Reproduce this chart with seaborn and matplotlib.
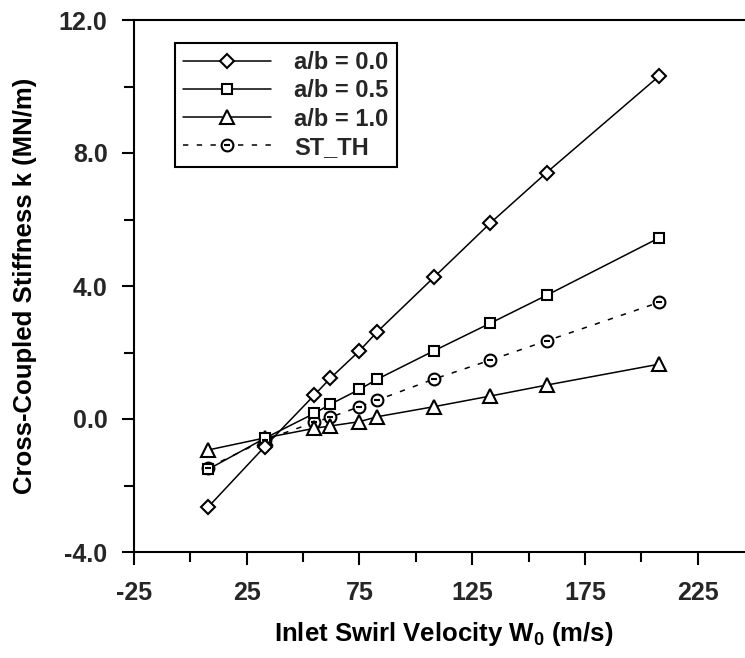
import matplotlib
matplotlib.use('Agg')
import matplotlib.pyplot as plt
import seaborn as sns
from matplotlib.lines import Line2D
from matplotlib.legend_handler import HandlerTuple
from matplotlib.ticker import FixedLocator, FormatStrFormatter

# ---- data ----
inlet_swirl = [8, 33, 55, 62, 75, 83, 108, 133, 158, 208]
k_ab_00 = [-2.64, -0.83, 0.72, 1.22, 2.05, 2.63, 4.26, 5.89, 7.41, 10.32]
k_ab_05 = [-1.51, -0.58, 0.17, 0.44, 0.89, 1.20, 2.05, 2.88, 3.72, 5.45]
k_ab_10 = [-0.93, -0.57, -0.28, -0.21, -0.08, 0.07, 0.37, 0.69, 1.02, 1.65]
k_st_th = [-1.46, -0.63, -0.10, 0.05, 0.37, 0.57, 1.20, 1.77, 2.35, 3.51]
series_labels = ['a/b = 0.0', 'a/b = 0.5', 'a/b = 1.0', 'ST_TH']

x_major = [-25, 25, 75, 125, 175, 225]
x_minor = [0, 50, 100, 150, 200, 250]
y_major = [-4, 0, 4, 8, 12]
y_minor = [-2, 2, 6, 10]

sns.set_theme(style='white')
plt.rcParams['font.family'] = ['Liberation Sans', 'DejaVu Sans']
plt.rcParams['font.weight'] = 'bold'
plt.rcParams['axes.unicode_minus'] = False
plt.rcParams['mathtext.fontset'] = 'custom'
plt.rcParams['mathtext.rm'] = 'Liberation Sans:bold'
plt.rcParams['mathtext.it'] = 'Liberation Sans:bold'
plt.rcParams['mathtext.bf'] = 'Liberation Sans:bold'
plt.rcParams['mathtext.default'] = 'rm'

fig = plt.figure(figsize=(7.45, 6.58), dpi=100)
ax = fig.add_axes([134 / 745, (658 - 552) / 658, 620 / 745, 532 / 658])

dash_style = (0, (3.5, 5.5))
common = dict(color='black', linewidth=1.1, markerfacecolor='white',
              markeredgecolor='black', markeredgewidth=1.5)
styles = [
    dict(marker='D', markersize=7, linestyle='-'),
    dict(marker='s', markersize=7.5, linestyle='-'),
    dict(marker='^', markersize=10, linestyle='-'),
    dict(marker='o', markersize=8.5, linestyle=dash_style),
]

all_k = [k_ab_00, k_ab_05, k_ab_10, k_st_th]
# draw ST_TH first so solid series markers sit on top like the reference
order = [3, 2, 1, 0]
for i in order:
    sns.lineplot(x=inlet_swirl, y=all_k[i], ax=ax, **common, **styles[i])
# small bar inside the ST_TH circles
ax.plot(inlet_swirl, k_st_th, linestyle='none', marker='_', markersize=4,
        markeredgewidth=1.5, color='black')

ax.set_xlim(-25, 250)
ax.set_ylim(-4, 12)
ax.xaxis.set_major_locator(FixedLocator(x_major))
ax.xaxis.set_minor_locator(FixedLocator(x_minor))
ax.yaxis.set_major_locator(FixedLocator(y_major))
ax.yaxis.set_minor_locator(FixedLocator(y_minor))
ax.yaxis.set_major_formatter(FormatStrFormatter('%.1f'))
ax.xaxis.set_major_formatter(FormatStrFormatter('%d'))

ax.tick_params(axis='both', which='both', direction='out', color='black',
               width=1.5, bottom=True, left=True, top=False, right=False)
ax.tick_params(axis='both', which='major', length=9, labelsize=18)
ax.tick_params(axis='both', which='minor', length=7)
ax.tick_params(axis='x', which='major', pad=12)
ax.tick_params(axis='y', which='major', pad=10)
for lab in ax.get_xticklabels() + ax.get_yticklabels():
    lab.set_fontweight('bold')

for side in ['left', 'bottom', 'top']:
    ax.spines[side].set_visible(True)
    ax.spines[side].set_color('black')
    ax.spines[side].set_linewidth(1.5)
ax.spines['right'].set_visible(False)
ax.grid(False)

ax.set_xlabel(r'Inlet Swirl Velocity W$_0$ (m/s)', fontsize=18.5,
              fontweight='bold', labelpad=11, color='black')
ax.set_ylabel('Cross-Coupled Stiffness k (MN/m)', fontsize=18.5,
              fontweight='bold', labelpad=16, color='black')

handles = []
for i in range(3):
    handles.append(Line2D([], [], **common, **styles[i]))
h_line = Line2D([], [], **common, **styles[3])
h_bar = Line2D([], [], linestyle='none', marker='_', markersize=4,
               markeredgewidth=1.5, color='black')
handles.append((h_line, h_bar))

leg = ax.legend(handles, series_labels, loc='upper left',
                bbox_to_anchor=(0.066, 0.957), borderaxespad=0,
                frameon=True, fancybox=False, framealpha=1,
                edgecolor='black', handlelength=3.7, handletextpad=1.0,
                labelspacing=0.22, borderpad=0.35, numpoints=1,
                handler_map={tuple: HandlerTuple(ndivide=1)},
                prop={'size': 17, 'weight': 'bold'})
leg.get_frame().set_linewidth(1.5)

fig.savefig('out.png', dpi=100)
